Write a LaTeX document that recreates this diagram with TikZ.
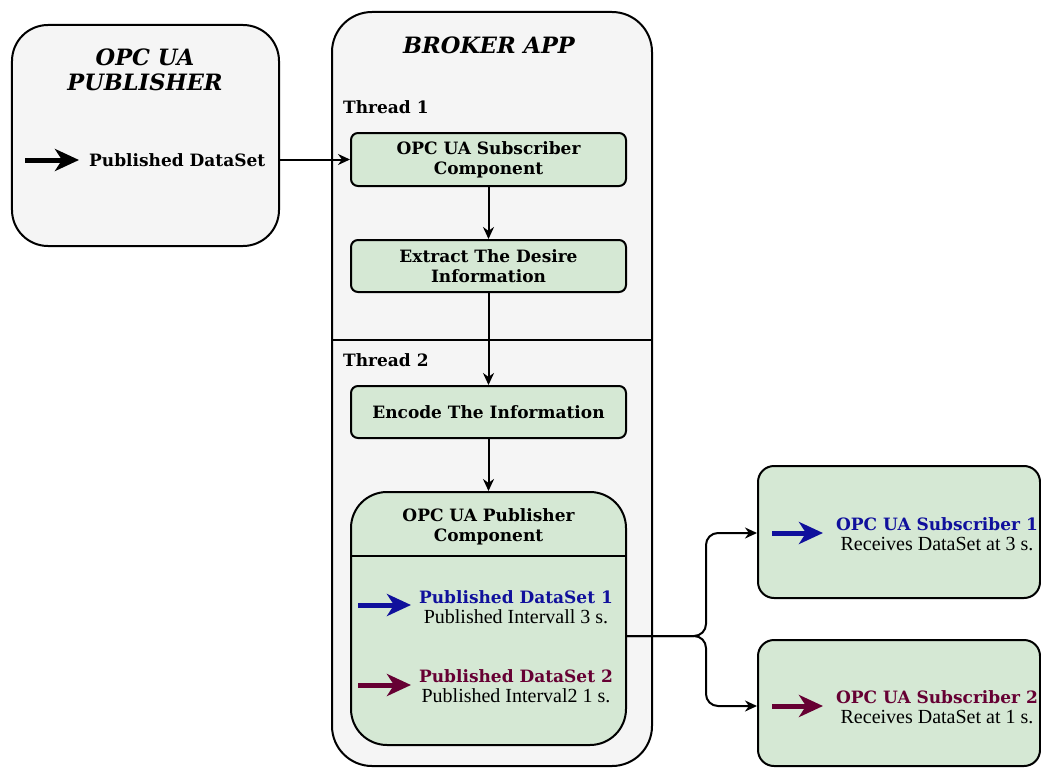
\documentclass[tikz,border=0pt]{standalone}
\usepackage{fontspec}
\setmainfont{DejaVu Serif}
\newfontfamily\plainserif{Liberation Serif}
\usetikzlibrary{arrows.meta}
\definecolor{boxgray}{HTML}{F5F5F5}
\definecolor{boxgreen}{HTML}{D5E8D4}
\definecolor{dsblue}{HTML}{10109C}
\definecolor{dsmaroon}{HTML}{660033}
\newcommand{\bodyfont}{\fontsize{17bp}{20bp}\selectfont\bfseries}
\newcommand{\titlefont}{\fontsize{22.5bp}{25bp}\selectfont\bfseries\itshape}
\newcommand{\notefont}{\fontsize{20bp}{20bp}\selectfont\plainserif\mdseries}
\begin{document}
\begin{tikzpicture}[x=1bp,y=-1bp,
  panel/.style={draw=black, line width=2bp, fill=boxgray, rounded corners=36bp,
    minimum width=#1, inner sep=0pt},
  stepbox/.style={draw=black, line width=2bp, fill=boxgreen, rounded corners=7bp,
    minimum width=275bp, minimum height=52bp, inner sep=0pt, align=center,
    font=\bodyfont},
  subbox/.style={draw=black, line width=2bp, fill=boxgreen, rounded corners=16bp,
    minimum width=282bp, inner sep=0pt},
  conn/.style={draw=black, line width=2bp, -{Stealth[length=12bp,width=11bp]}},
  fat/.style={line width=5bp, -{Stealth[length=24bp,width=22bp,inset=7bp]}},
  lbl/.style={inner sep=0pt, align=center},
  pair/.style={inner sep=0pt, align=center, font=\bodyfont}
]
\useasboundingbox (0,0) rectangle (1041,769);

% outer containers
\node[panel=267bp, minimum height=221bp] (pub) at (145.5,135.5) {};
\node[panel=320bp, minimum height=754bp, rounded corners=40bp] (broker) at (492,389) {};
\draw[line width=2bp] (broker.west |- 0,340) -- (broker.east |- 0,340);

% publisher application
\node[lbl, font=\titlefont] (pubtitle) at (145,70) {OPC UA\\PUBLISHER};
\coordinate (pa1) at (25,160);
\coordinate (pa2) at (79,160);
\draw[fat] (pa1) -- (pa2);
\node[lbl, anchor=west, font=\bodyfont] (pubds) at (89,160) {Published DataSet};

% broker application
\node[lbl, font=\titlefont] (brtitle) at (489,45) {BROKER APP};
\node[lbl, anchor=west, font=\bodyfont] (th1) at (343,107) {Thread 1};
\node[lbl, anchor=west, font=\bodyfont] (th2) at (343,360) {Thread 2};

\node[stepbox, minimum height=53bp] (subc) at (488.5,159.5) {OPC UA Subscriber\\Component};
\node[stepbox] (extr) at (488.5,266) {Extract The Desire\\Information};
\node[stepbox] (enc) at (488.5,412) {Encode The Information};
\node[stepbox, minimum height=253bp, rounded corners=36bp] (pubc) at (488.5,618.5) {};
\draw[line width=2bp] (pubc.west |- 0,556) -- (pubc.east |- 0,556);
\node[lbl, font=\bodyfont] (pubctitle) at (488.5,527) {OPC UA Publisher\\Component};

\coordinate (ba1) at (358,605);
\coordinate (ba2) at (411,605);
\draw[fat, dsblue] (ba1) -- (ba2);
\node[pair] (ds1) at (516,607) {\textcolor{dsblue}{Published DataSet 1}\\{\notefont Published Intervall 3 s.}};
\coordinate (ma1) at (358,685);
\coordinate (ma2) at (411,685);
\draw[fat, dsmaroon] (ma1) -- (ma2);
\node[pair] (ds2) at (516,686) {\textcolor{dsmaroon}{Published DataSet 2}\\{\notefont Published Interval2 1 s.}};

% subscribers
\node[subbox, minimum height=132bp] (sub1) at (899,532) {};
\node[subbox, minimum height=126bp] (sub2) at (899,703) {};
\coordinate (s1a) at (772,533);
\coordinate (s1b) at (823,533);
\draw[fat, dsblue] (s1a) -- (s1b);
\node[pair] (sub1t) at (937,534) {\textcolor{dsblue}{OPC UA Subscriber 1}\\{\notefont Receives DataSet at 3 s.}};
\coordinate (s2a) at (772,706);
\coordinate (s2b) at (823,706);
\draw[fat, dsmaroon] (s2a) -- (s2b);
\node[pair] (sub2t) at (937,707) {\textcolor{dsmaroon}{OPC UA Subscriber 2}\\{\notefont Receives DataSet at 1 s.}};

% data flow
\draw[conn] (pub.east |- subc.west) -- (subc.west);
\draw[conn] (subc.south) -- (extr.north);
\draw[conn] (extr.south) -- (enc.north);
\draw[conn] (enc.south) -- (pubc.north);
\coordinate (split) at (706,636);
\draw[conn, rounded corners=12bp] (pubc.east |- split) -- (split) |- (sub1.west |- 0,533);
\draw[conn, rounded corners=12bp] (pubc.east |- split) -- (split) |- (sub2.west |- 0,706);
\end{tikzpicture}
\end{document}
